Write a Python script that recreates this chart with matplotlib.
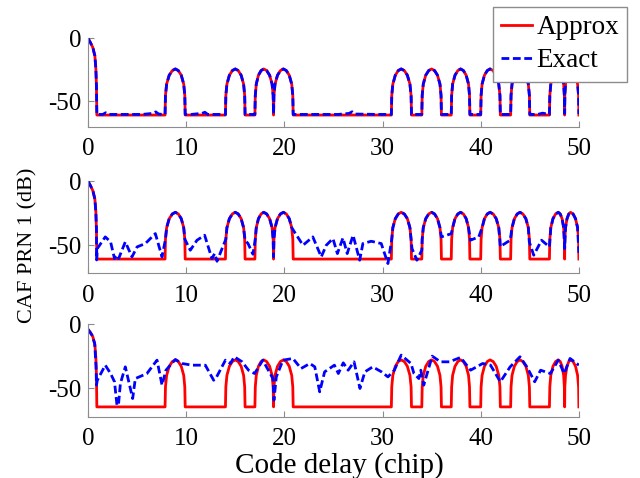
import matplotlib.pyplot as plt

plt.rcParams['font.family'] = ['Liberation Serif', 'DejaVu Serif']
plt.rcParams['axes.unicode_minus'] = False

# code delay grid of the approximate CAF (same in all three panels)
approx_x = [
    0, 0.25, 0.5, 0.7, 0.8, 0.86, 0.9,
    7.85, 7.89, 8.01, 8.27, 8.59, 8.9, 9.2, 9.5, 9.75, 9.86, 9.9,
    14.0, 14.04, 14.15, 14.4, 14.7, 15.0, 15.3, 15.6, 15.85, 15.96, 16.0,
    17.0, 17.04, 17.14, 17.36, 17.63, 17.9, 18.2, 18.5, 18.75, 18.86, 18.9,
    18.9, 18.94, 19.05, 19.3, 19.6, 19.9, 20.2, 20.5, 20.75, 20.86, 20.9,
    30.9, 30.94, 31.05, 31.3, 31.6, 31.9, 32.22, 32.53, 32.79, 32.91, 32.95,
    34.0, 34.04, 34.15, 34.4, 34.7, 35.0, 35.3, 35.6, 35.85, 35.96, 36.0,
    37.0, 37.04, 37.14, 37.38, 37.67, 37.95, 38.24, 38.52, 38.76, 38.86, 38.9,
    40.0, 40.04, 40.14, 40.38, 40.67, 40.95, 41.27, 41.58, 41.84, 41.96, 42.0,
    43.05, 43.09, 43.19, 43.43, 43.72, 44.0, 44.3, 44.6, 44.85, 44.96, 45.0,
    47.0, 47.04, 47.14, 47.36, 47.63, 47.9, 48.1, 48.29, 48.45, 48.52, 48.55,
    48.55, 48.57, 48.64, 48.79, 48.97, 49.15, 49.41, 49.66, 49.87, 49.97, 50.0,
]

# approx CAF in dB, panels 1 and 2
approx_db_top = [
    0, -3.5, -7.5, -14, -24, -38, -60.8,
    -60.8, -45.3, -36.3, -29.3, -25.6, -24.3, -25.6, -29.3, -36.3, -45.3, -60.8,
    -60.8, -45.3, -36.3, -29.3, -25.6, -24.3, -25.6, -29.3, -36.3, -45.3, -60.8,
    -60.8, -45.3, -36.3, -29.3, -25.6, -24.3, -25.6, -29.3, -36.3, -45.3, -60.8,
    -60.8, -45.3, -36.3, -29.3, -25.6, -24.3, -25.6, -29.3, -36.3, -45.3, -60.8,
    -60.8, -45.3, -36.3, -29.3, -25.6, -24.3, -25.6, -29.3, -36.3, -45.3, -60.8,
    -60.8, -45.3, -36.3, -29.3, -25.6, -24.3, -25.6, -29.3, -36.3, -45.3, -60.8,
    -60.8, -45.3, -36.3, -29.3, -25.6, -24.3, -25.6, -29.3, -36.3, -45.3, -60.8,
    -60.8, -45.3, -36.3, -29.3, -25.6, -24.3, -25.6, -29.3, -36.3, -45.3, -60.8,
    -60.8, -45.3, -36.3, -29.3, -25.6, -24.3, -25.6, -29.3, -36.3, -45.3, -60.8,
    -60.8, -45.3, -36.3, -29.3, -25.6, -24.3, -25.6, -29.3, -36.3, -45.3, -60.8,
    -60.8, -45.3, -36.3, -29.3, -25.6, -24.3, -25.6, -29.3, -36.3, -45.3, -60.8,
]

# approx CAF in dB, panel 3
approx_db_bottom = [
    -4.1, -6.5, -10, -16, -26, -40, -64.3,
    -64.3, -48.8, -39.8, -32.8, -29.1, -27.8, -29.1, -32.8, -39.8, -48.8, -64.3,
    -64.3, -48.8, -39.8, -32.8, -29.1, -27.8, -29.1, -32.8, -39.8, -48.8, -64.3,
    -64.3, -48.8, -39.8, -32.8, -29.1, -27.8, -29.1, -32.8, -39.8, -48.8, -64.3,
    -64.3, -48.8, -39.8, -32.8, -29.1, -27.8, -29.1, -32.8, -39.8, -48.8, -64.3,
    -64.3, -48.8, -39.8, -32.8, -29.1, -27.8, -29.1, -32.8, -39.8, -48.8, -64.3,
    -64.3, -48.8, -39.8, -32.8, -29.1, -27.8, -29.1, -32.8, -39.8, -48.8, -64.3,
    -64.3, -48.8, -39.8, -32.8, -29.1, -27.8, -29.1, -32.8, -39.8, -48.8, -64.3,
    -64.3, -48.8, -39.8, -32.8, -29.1, -27.8, -29.1, -32.8, -39.8, -48.8, -64.3,
    -64.3, -48.8, -39.8, -32.8, -29.1, -27.8, -29.1, -32.8, -39.8, -48.8, -64.3,
    -64.3, -48.8, -39.8, -32.8, -29.1, -27.8, -29.1, -32.8, -39.8, -48.8, -64.3,
    -64.3, -48.8, -39.8, -32.8, -29.1, -27.8, -29.1, -32.8, -39.8, -48.8, -64.3,
]

# exact CAF, panel 1
exact1_x = [
    0, 0.25, 0.5, 0.7, 0.8, 0.86, 0.9,
    1.5, 1.8, 2.1, 5.5, 6.6, 6.9, 7.2, 7.6,
    7.85, 7.89, 8.01, 8.27, 8.59, 8.9, 9.2, 9.5, 9.75, 9.86, 9.9,
    10.5, 11.6, 11.9, 12.2, 13.5,
    14.0, 14.04, 14.15, 14.4, 14.7, 15.0, 15.3, 15.6, 15.85, 15.96, 16.0,
    16.5,
    17.0, 17.04, 17.14, 17.36, 17.63, 17.9, 18.2, 18.5, 18.75, 18.86, 18.9,
    18.94, 19.05, 19.3, 19.6, 19.9, 20.2, 20.5, 20.75, 20.86, 20.9,
    22.0, 25.5, 26.6, 26.9, 27.2, 29.5,
    30.9, 30.94, 31.05, 31.3, 31.6, 31.9, 32.22, 32.53, 32.79, 32.91, 32.95,
    33.5,
    34.0, 34.04, 34.15, 34.4, 34.7, 35.0, 35.3, 35.6, 35.85, 35.96, 36.0,
    36.5,
    37.0, 37.04, 37.14, 37.38, 37.67, 37.95, 38.24, 38.52, 38.76, 38.86, 38.9,
    39.5,
    40.0, 40.04, 40.14, 40.38, 40.67, 40.95, 41.27, 41.58, 41.84, 41.96, 42.0,
    42.5,
    43.05, 43.09, 43.19, 43.43, 43.72, 44.0, 44.3, 44.6, 44.85, 44.96, 45.0,
    45.8, 46.3,
    47.0, 47.04, 47.14, 47.36, 47.63, 47.9, 48.1, 48.29, 48.45, 48.52, 48.55,
    48.57, 48.64, 48.79, 48.97, 49.15, 49.41, 49.66, 49.87, 49.97, 50.0,
]
exact1_db = [
    0, -3.5, -7.5, -14, -24, -38, -60.3,
    -60.3, -59.0, -60.3, -60.3, -59.5, -58.3, -60.0, -60.3,
    -60.3, -45.3, -36.3, -29.3, -25.6, -24.3, -25.6, -29.3, -36.3, -45.3, -60.3,
    -60.3, -59.5, -58.6, -60.3, -60.3,
    -60.3, -45.3, -36.3, -29.3, -25.6, -24.3, -25.6, -29.3, -36.3, -45.3, -60.3,
    -60.3,
    -60.3, -45.3, -36.3, -29.3, -25.6, -24.3, -25.6, -29.3, -36.3, -45.3, -60.0,
    -45.3, -36.3, -29.3, -25.6, -24.3, -25.6, -29.3, -36.3, -45.3, -60.3,
    -60.3, -60.3, -59.5, -58.2, -60.0, -60.3,
    -60.3, -45.3, -36.3, -29.3, -25.6, -24.3, -25.6, -29.3, -36.3, -45.3, -60.3,
    -60.3,
    -60.3, -45.3, -36.3, -29.3, -25.6, -24.3, -25.6, -29.3, -36.3, -45.3, -60.3,
    -60.3,
    -60.3, -45.3, -36.3, -29.3, -25.6, -24.3, -25.6, -29.3, -36.3, -45.3, -60.3,
    -60.3,
    -60.3, -45.3, -36.3, -29.3, -25.6, -24.3, -25.6, -29.3, -36.3, -45.3, -60.3,
    -60.3,
    -60.3, -45.3, -36.3, -29.3, -25.6, -24.3, -25.6, -29.3, -36.3, -45.3, -60.3,
    -60.3, -59.3,
    -60.3, -45.3, -36.3, -29.3, -25.6, -24.3, -25.6, -29.3, -36.3, -45.3, -59.5,
    -45.3, -36.3, -29.3, -25.6, -24.3, -25.6, -29.3, -36.3, -45.3, -60.0,
]

# exact CAF, panel 2
exact2_x = [
    0, 0.25, 0.5, 0.7, 0.8, 0.86, 0.88, 0.95, 1.76, 2.3, 2.7, 2.95, 3.12,
    3.8, 4.48, 5.0, 5.84, 6.86, 7.54,
    7.89, 8.01, 8.27, 8.59, 8.9, 9.2, 9.5, 9.75, 9.86,
    10.42, 11.1, 11.88, 12.62, 12.9, 13.14,
    14.04, 14.15, 14.4, 14.7, 15.0, 15.3, 15.6, 15.85, 16.0, 16.3, 16.8,
    17.04, 17.14, 17.36, 17.63, 17.9, 18.2, 18.5, 18.75, 18.86, 18.9,
    18.94, 19.05, 19.3, 19.6, 19.9, 20.2, 20.5, 20.75,
    21.9, 22.9, 23.76, 24.27, 24.95, 25.4, 25.97, 26.4, 27.0, 27.67,
    28.0, 28.85, 29.87, 30.55,
    30.94, 31.05, 31.3, 31.6, 31.9, 32.22, 32.53, 32.79, 33.0, 33.5, 34.0,
    34.04, 34.15, 34.4, 34.7, 35.0, 35.3, 35.6, 35.85, 36.0, 37.0,
    37.14, 37.38, 37.67, 37.95, 38.24, 38.52, 38.76, 38.95, 39.8,
    40.14, 40.38, 40.67, 40.95, 41.27, 41.58, 41.84, 42.0, 42.2, 43.0,
    43.19, 43.43, 43.72, 44.0, 44.3, 44.6, 44.85, 44.95, 45.4, 46.2, 47.0,
    47.14, 47.36, 47.63, 47.9, 48.1, 48.29, 48.45, 48.55,
    48.64, 48.79, 48.97, 49.15, 49.41, 49.66, 49.87, 50.0,
]
exact2_db = [
    0, -3.5, -7.5, -14, -24, -38, -61.5, -52.6, -43.5, -47.4, -60.4, -57.8, -60.4,
    -47.4, -59.1, -51.3, -48.7, -40.9, -59.1,
    -45.3, -36.3, -29.3, -25.6, -24.3, -25.6, -29.3, -36.3, -45.3,
    -53.9, -46.1, -42.2, -60.4, -56.5, -62.5,
    -45.3, -36.3, -29.3, -25.6, -24.3, -25.6, -29.3, -36.3, -46.0, -48.7, -57.0,
    -45.3, -36.3, -29.3, -25.6, -24.3, -25.6, -29.3, -36.3, -45.3, -59.0,
    -45.3, -36.3, -29.3, -25.6, -24.3, -25.6, -29.3, -36.3,
    -50.0, -43.5, -59.1, -50.0, -44.8, -56.5, -44.3, -56.5, -42.2, -61.7,
    -48.7, -46.9, -48.7, -64.3,
    -45.3, -36.3, -29.3, -25.6, -24.3, -25.6, -29.3, -36.3, -52.6, -61.7, -53.9,
    -45.3, -36.3, -29.3, -25.6, -24.3, -25.6, -29.3, -36.3, -43.5, -41.0,
    -36.3, -29.3, -25.6, -24.3, -25.6, -29.3, -36.3, -46.1, -43.5,
    -36.3, -29.3, -25.6, -24.3, -25.6, -29.3, -36.3, -51.3, -50.0, -46.1,
    -36.3, -29.3, -25.6, -24.3, -25.6, -29.3, -36.3, -47.4, -57.8, -46.1, -51.3,
    -36.3, -29.3, -25.6, -24.3, -25.6, -29.3, -36.3, -52.6,
    -36.3, -29.3, -25.6, -24.3, -25.6, -29.3, -36.3, -56.0,
]

# exact CAF, panel 3
exact3_x = [
    0, 0.41, 0.68, 0.82, 0.86, 0.95, 1.76, 2.3, 2.7, 2.95, 3.1, 3.3, 3.8,
    4.55, 4.82, 6.0, 7.03, 7.54, 7.94, 8.9, 9.57, 10.6, 11.95, 12.8, 13.1,
    14.0, 14.5, 14.9, 15.7, 16.35, 16.97, 17.8, 18.84, 18.94, 19.18, 19.86,
    20.87, 21.7, 22.6, 23.1, 23.6, 24.1, 25.1, 25.5, 26.0, 26.5, 27.1, 27.7,
    28.2, 29.0, 29.9, 30.55, 31.2, 31.9, 32.9, 33.2, 33.7, 33.9, 34.2,
    35.06, 35.9, 36.8, 37.95, 38.97, 40.2, 41.0, 42.0, 43.0, 44.0, 44.7,
    45.5, 46.1, 47.1, 47.9, 48.5, 49.1, 50.0,
]
exact3_db = [
    -4.1, -8.6, -15, -33, -47.4, -43.6, -31.9, -38.4, -44.8, -63, -63, -46.1, -33.2,
    -57.8, -42.3, -38.4, -28, -47.4, -35.8, -27.5, -30.6, -31.9, -31.9, -43.6, -41,
    -28, -30.6, -25.4, -29.3, -35.8, -38.4, -28, -42.3, -59.1, -41, -28,
    -26.7, -34.5, -30.6, -33.2, -52.6, -37.1, -31.9, -38.4, -30.1, -35.8, -29.3, -50,
    -37.1, -33.2, -37.1, -41, -35.8, -24.1, -30.6, -38.4, -42.3, -35.8, -47.4,
    -24.9, -29.3, -29.3, -25.9, -35.8, -30.6, -31.9, -44.8, -33.2, -25.4, -33.2,
    -44.8, -35.8, -38.4, -28, -38.4, -26.7, -31.9,
]

fig = plt.figure(figsize=(6.4, 4.78), dpi=100)

rects = [
    [0.1375, 0.735, 0.767, 0.185],
    [0.1375, 0.428, 0.767, 0.193],
    [0.1375, 0.128, 0.767, 0.194],
]
panels = [
    (approx_db_top, exact1_x, exact1_db, -70),
    (approx_db_top, exact2_x, exact2_db, -72),
    (approx_db_bottom, exact3_x, exact3_db, -72),
]

axes = []
for rect, (red_db, bx, by, ybot) in zip(rects, panels):
    ax = fig.add_axes(rect)
    ax.plot(approx_x, red_db, color='#ff0000', lw=2.0, label='Approx')
    ax.plot(bx, by, color='#0000ff', lw=2.0, ls=(0, (2.8, 1.3)), label='Exact')
    ax.set_xlim(0, 50)
    ax.set_ylim(ybot, 0)
    ax.set_xticks(range(0, 51, 10))
    ax.set_yticks([-50, 0])
    for side in ['top', 'right']:
        ax.spines[side].set_visible(False)
    for side in ['left', 'bottom']:
        ax.spines[side].set_color('0.55')
    ax.tick_params(direction='in', length=4, color='0.55', labelsize=18)
    ax.tick_params(axis='x', pad=8)
    ax.tick_params(axis='y', pad=5)
    axes.append(ax)

handles, labels = axes[0].get_legend_handles_labels()
fig.legend(handles, labels, loc='upper right', bbox_to_anchor=(0.98, 0.985),
           borderaxespad=0, fontsize=19.5, fancybox=False, framealpha=1,
           edgecolor='0.55', borderpad=0.3, labelspacing=0.3,
           handlelength=1.15, handletextpad=0.15)

fig.text(0.531, 0.027, 'Code delay (chip)', ha='center', va='center', fontsize=21)
fig.text(0.044, 0.487, 'CAF PRN 1 (dB)', ha='center', va='center',
         rotation=90, fontsize=16)

fig.savefig('out.png', dpi=100)
